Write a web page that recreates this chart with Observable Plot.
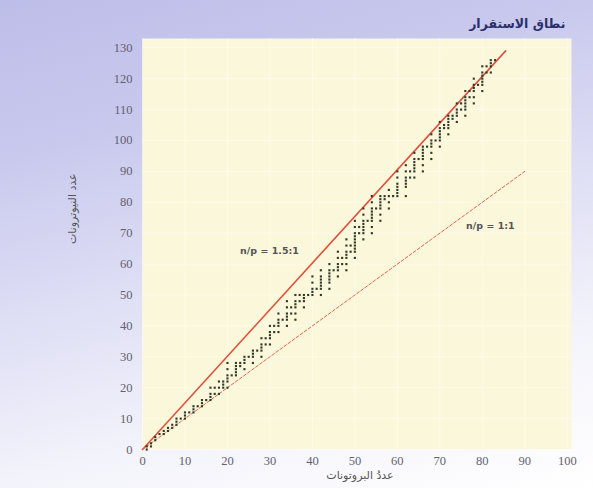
<!DOCTYPE html>
<html>
<head>
<meta charset="utf-8">
<script src="https://cdn.jsdelivr.net/npm/d3@7"></script>
<script src="https://cdn.jsdelivr.net/npm/@observablehq/plot@0.6"></script>
<style>
  html, body { margin: 0; padding: 0; }
  body {
    width: 593px; height: 488px; overflow: hidden;
    background: linear-gradient(165deg, #bdbde9 0%, #c9c9ee 25%, #dedef5 50%, #f3f3fb 75%, #ffffff 100%);
  }
</style>
</head>
<body>
<div id="chart"></div>
<script>
// Stable nuclides: protons (Z) and list of neutron counts (N)
const protons = [1,2,3,4,5,6,7,8,9,10,11,12,13,14,15,16,17,18,19,20,21,22,23,24,25,26,27,28,29,30,31,32,33,34,35,36,37,38,39,40,41,42,44,45,46,47,48,49,50,51,52,53,54,55,56,57,58,59,60,62,63,64,65,66,67,68,69,70,71,72,73,74,75,76,77,78,79,80,81,82,83];
const neutrons = [
  [0,1],[1,2],[3,4],[5],[5,6],[6,7],[7,8],[8,9,10],[10],[10,11,12],
  [12],[12,13,14],[14],[14,15,16],[16],[16,17,18,20],[18,20],[18,20,22],[20,21,22],[20,22,23,24,26,28],
  [24],[24,25,26,27,28],[27,28],[26,28,29,30],[30],[28,30,31,32],[32],[30,32,33,34,36],[34,36],[34,36,37,38,40],
  [38,40],[38,40,41,42,44],[42],[40,42,43,44,46,48],[44,46],[42,44,46,47,48,50],[48,50],[46,48,49,50],[50],[50,51,52,54,56],
  [52],[50,52,53,54,55,56,58],[52,54,55,56,57,58,60],[58],[56,58,59,60,62,64],[60,62],[58,60,62,63,64,66,68],[64,66],[62,64,65,66,67,68,69,70,72,74],[70,72],
  [68,70,71,72,73,74,76,78],[74],[70,72,74,75,76,77,78,80,82],[78],[74,76,78,79,80,81,82],[81,82],[78,80,82,84],[82],[82,83,84,85,86,88,90],[82,85,86,87,88,90,92],
  [88,90],[88,90,91,92,93,94,96],[94],[90,92,94,95,96,97,98],[98],[94,96,98,99,100,102],[100],[98,100,101,102,103,104,106],[104,105],[102,104,105,106,107,108],
  [107,108],[106,108,109,110,112],[110,112],[108,110,111,112,113,114,116],[114,116],[112,114,116,117,118,120],[118],[116,118,119,120,121,122,124],[122,124],[122,124,125,126],
  [126]
];
// Reference lines n/p = 1.5:1 and 1:1 (start and end, in protons / neutrons)
const line15P = [0, 85.5];
const line15N = [0, 129];
const line11P = [0, 90];
const line11N = [0, 90];
// Tick labels
const xTicks = [0,10,20,30,40,50,60,70,80,90,100];
const yTicks = [0,10,20,30,40,50,60,70,80,90,100,110,120,130];
// Annotation texts and their anchor values (data units)
const annLabels = ["n/p = 1.5:1", "n/p = 1:1"];
const annP = [29.9, 81.9];
const annN = [64.4, 72.3];
const titleText = "نطاق الاستقرار";
const xLabel = "عددُ البروتونات";
const yLabel = "عدد النيوترونات";

const nuclides = protons.flatMap((z, i) => neutrons[i].map(n => ({p: z, n})));
const l15 = line15P.map((p, i) => ({p, n: line15N[i]}));
const l11 = line11P.map((p, i) => ({p, n: line11N[i]}));
const ann = annLabels.map((t, i) => ({t, p: annP[i], n: annN[i]}));

const chart = Plot.plot({
  width: 593,
  height: 488,
  marginLeft: 142,
  marginRight: 22,
  marginTop: 38,
  marginBottom: 39,
  style: {background: "transparent", fontFamily: "Liberation Serif", fontSize: "12.5px"},
  x: {domain: [0, 101]},
  y: {domain: [0, 133]},
  marks: [
    Plot.frame({fill: "#fbf7da", stroke: null}),
    Plot.gridX(xTicks, {stroke: "#ffffff", strokeOpacity: 0.45}),
    Plot.gridY(yTicks, {stroke: "#ffffff", strokeOpacity: 0.45}),
    Plot.axisX(xTicks, {tickSize: 0, tickPadding: 7, fill: "#62626e", label: null, fontFamily: "Liberation Serif", fontSize: 12.5}),
    Plot.axisY(yTicks, {tickSize: 0, tickPadding: 10, fill: "#62626e", label: null, fontFamily: "Liberation Serif", fontSize: 12.5}),
    Plot.line(l11, {x: "p", y: "n", stroke: "#e2654f", strokeWidth: 1, strokeDasharray: "3,2"}),
    Plot.line(l15, {x: "p", y: "n", stroke: "#e0503b", strokeWidth: 1.6}),
    Plot.dot(nuclides, {x: "p", y: "n", symbol: "square", r: 1.2, fill: "#2f3a2c", stroke: null}),
    Plot.text(ann, {x: "p", y: "n", text: "t", fill: "#555", fontFamily: "DejaVu Sans", fontSize: 9.5, fontWeight: "bold"}),
    Plot.text([titleText], {frameAnchor: "top-right", dx: -6, dy: -19, textAnchor: "end", fill: "#2b2f6b", fontFamily: "DejaVu Sans", fontSize: 12.5, fontWeight: "bold"}),
    Plot.text([xLabel], {frameAnchor: "bottom", dx: 3, dy: 29, fill: "#555", fontFamily: "DejaVu Sans", fontSize: 11}),
    Plot.text([yLabel], {frameAnchor: "left", dx: -70, rotate: -90, fill: "#555", fontFamily: "DejaVu Sans", fontSize: 11})
  ]
});
document.getElementById("chart").appendChild(chart);
</script>
</body>
</html>
